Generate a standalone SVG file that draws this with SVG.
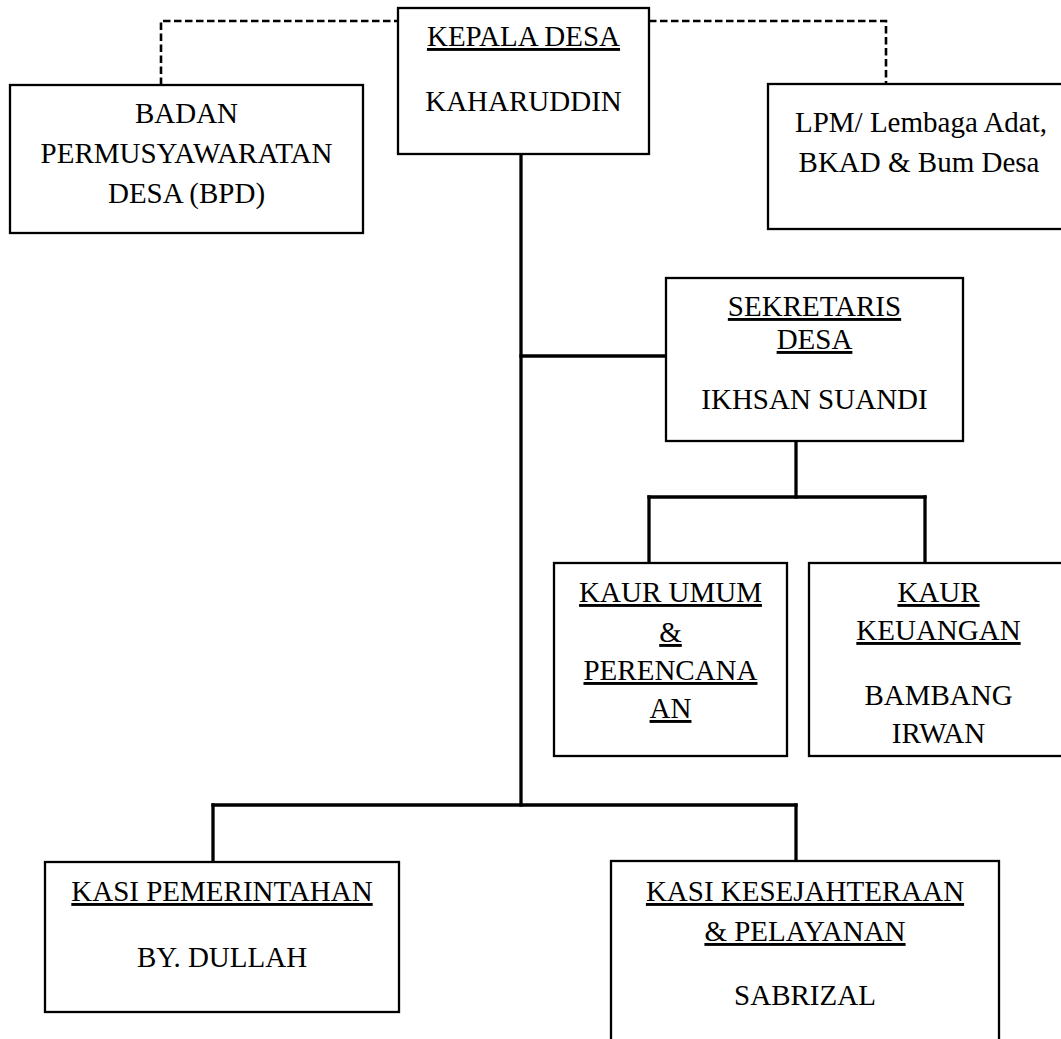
<svg xmlns="http://www.w3.org/2000/svg" width="1061" height="1039" viewBox="0 0 1061 1039">
<style>
.box{fill:#fff;stroke:#000;stroke-width:2.3}
.t{font-family:"Liberation Serif","Times New Roman",serif;font-size:29px;fill:#000;text-anchor:middle}
.u{text-decoration:underline}
.solid{fill:none;stroke:#000;stroke-width:3.3;stroke-linecap:square}
.dash{fill:none;stroke:#000;stroke-width:2.6;stroke-dasharray:7.5 3.5}
</style>
<rect width="1061" height="1039" fill="#fff"/>
<g id="connectors">
<path class="dash" d="M161,85 V21 H398"/>
<path class="dash" d="M649,21 H886 V84"/>
<path class="solid" d="M521,154 V805"/>
<path class="solid" d="M521,356 H666"/>
<path class="solid" d="M796,441 V497"/>
<path class="solid" d="M649,497 H925"/>
<path class="solid" d="M649,497 V563"/>
<path class="solid" d="M925,497 V563"/>
<path class="solid" d="M213,805 H796"/>
<path class="solid" d="M213,805 V862"/>
<path class="solid" d="M796,805 V861"/>
</g>
<g id="kepala-desa">
<rect class="box" x="398" y="8" width="251" height="146"/>
<text class="t u" x="523.5" y="46">KEPALA DESA</text>
<text class="t" x="523.5" y="111">KAHARUDDIN</text>
</g>
<g id="bpd">
<rect class="box" x="10" y="85" width="353" height="148"/>
<text class="t" x="186.5" y="123">BADAN</text>
<text class="t" x="186.5" y="163">PERMUSYAWARATAN</text>
<text class="t" x="186.5" y="203">DESA (BPD)</text>
</g>
<g id="lpm">
<rect class="box" x="768" y="84" width="310" height="145"/>
<text class="t" x="921" y="132">LPM/ Lembaga Adat,</text>
<text class="t" x="919" y="172">BKAD &amp; Bum Desa</text>
</g>
<g id="sekretaris">
<rect class="box" x="666" y="278" width="297" height="163"/>
<text class="t u" x="814.5" y="316">SEKRETARIS</text>
<text class="t u" x="814.5" y="349">DESA</text>
<text class="t" x="814.5" y="409">IKHSAN SUANDI</text>
</g>
<g id="kaur-umum">
<rect class="box" x="554" y="563" width="233" height="193"/>
<text class="t u" x="670.5" y="602">KAUR UMUM</text>
<text class="t u" x="670.5" y="642">&amp;</text>
<text class="t u" x="670.5" y="680">PERENCANA</text>
<text class="t u" x="670.5" y="718">AN</text>
</g>
<g id="kaur-keuangan">
<rect class="box" x="809" y="563" width="270" height="193"/>
<text class="t u" x="938.5" y="602">KAUR</text>
<text class="t u" x="938.5" y="640">KEUANGAN</text>
<text class="t" x="938.5" y="705">BAMBANG</text>
<text class="t" x="938.5" y="743">IRWAN</text>
</g>
<g id="kasi-pemerintahan">
<rect class="box" x="45" y="862" width="354" height="150"/>
<text class="t u" x="222" y="901">KASI PEMERINTAHAN</text>
<text class="t" x="222" y="967">BY. DULLAH</text>
</g>
<g id="kasi-kesejahteraan">
<rect class="box" x="611" y="861" width="388" height="200"/>
<text class="t u" x="805" y="901">KASI KESEJAHTERAAN</text>
<text class="t u" x="805" y="941">&amp; PELAYANAN</text>
<text class="t" x="805" y="1005">SABRIZAL</text>
</g>
</svg>
